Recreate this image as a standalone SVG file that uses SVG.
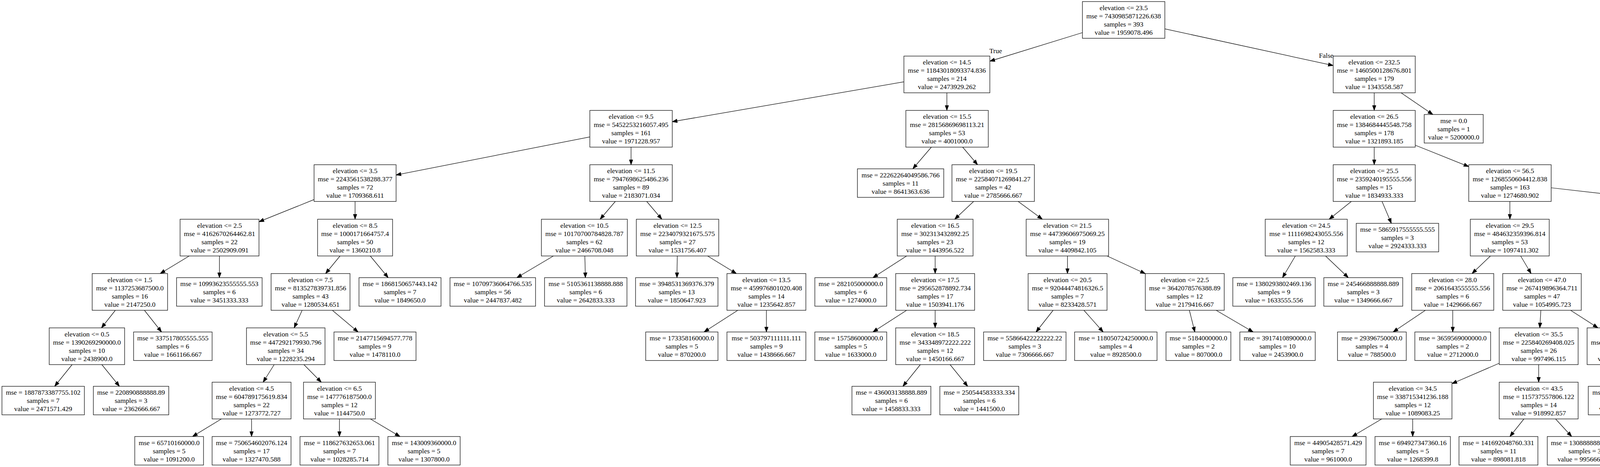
<svg xmlns="http://www.w3.org/2000/svg" width="7053" height="1195" viewBox="0 0 7053 1195">
<style>
.node rect{fill:#fff;stroke:#000;stroke-width:1.25}
.node text,.lbl{font-family:"Liberation Serif","Times New Roman",serif;font-size:17.5px;text-anchor:middle;fill:#000}
.edges line{stroke:#000;stroke-width:1.25;fill:none;marker-end:url(#arr)}
</style>
<defs>
<marker id="arr" markerUnits="userSpaceOnUse" viewBox="0 0 13 9" markerWidth="13" markerHeight="9" refX="12.5" refY="4.5" orient="auto" overflow="visible">
<path d="M0,0 L12.5,4.5 L0,9 z" fill="#000" stroke="#000" stroke-width="1"/>
</marker>
</defs>
<rect width="7053" height="1195" fill="#fff"/>
<g id="edges" class="edges">
<line x1="2771" y1="83.5" x2="2534" y2="156.6"/>
<line x1="2982" y1="73.9" x2="3413" y2="167.7"/>
<line x1="2314" y1="209.4" x2="1721" y2="311.4"/>
<line x1="2424" y1="237.5" x2="2424" y2="282.5"/>
<line x1="3518" y1="237.5" x2="3518" y2="282.5"/>
<line x1="3586.8" y1="237.5" x2="3668.1" y2="293"/>
<line x1="1510" y1="350.3" x2="1014" y2="447.8"/>
<line x1="1615.5" y1="376.5" x2="1615.5" y2="421.5"/>
<line x1="2384.3" y1="376.5" x2="2336.8" y2="432"/>
<line x1="2464.4" y1="376.5" x2="2502.6" y2="421.5"/>
<line x1="3518" y1="376.5" x2="3518" y2="421.5"/>
<line x1="3623" y1="371.5" x2="3760" y2="426.3"/>
<line x1="804" y1="510.7" x2="663" y2="567.4"/>
<line x1="909" y1="515.5" x2="909" y2="561"/>
<line x1="1575.2" y1="515.5" x2="1536.3" y2="561"/>
<line x1="1655.6" y1="515.5" x2="1694.4" y2="561"/>
<line x1="2492.5" y1="515.5" x2="2444" y2="561"/>
<line x1="2606.5" y1="515.5" x2="2668.5" y2="561"/>
<line x1="3459.4" y1="515.5" x2="3402.6" y2="561"/>
<line x1="3538" y1="515.5" x2="3561.9" y2="571.5"/>
<line x1="3865.3" y1="515.5" x2="3865.3" y2="561"/>
<line x1="3971" y1="480.5" x2="5000" y2="597.1"/>
<line x1="484.4" y1="655" x2="410.1" y2="700"/>
<line x1="561.7" y1="655" x2="561.7" y2="710.5"/>
<line x1="870.5" y1="655" x2="833.5" y2="700"/>
<line x1="947.9" y1="655" x2="993.8" y2="710.5"/>
<line x1="1416.7" y1="655" x2="1323.1" y2="710.5"/>
<line x1="1497.2" y1="655" x2="1498.6" y2="710.5"/>
<line x1="1733.8" y1="655" x2="1733" y2="710.5"/>
<line x1="1811.4" y1="655" x2="1885.1" y2="700"/>
<line x1="2321" y1="655" x2="2234.7" y2="710.5"/>
<line x1="2394" y1="655" x2="2394" y2="700"/>
<line x1="2732.7" y1="655" x2="2732.7" y2="700"/>
<line x1="2834.1" y1="655" x2="2932" y2="700.3"/>
<line x1="3316.1" y1="655" x2="3283.2" y2="710.5"/>
<line x1="3393.4" y1="655" x2="3451.7" y2="710.5"/>
<line x1="3815.6" y1="655" x2="3768.4" y2="700"/>
<line x1="3892.9" y1="655" x2="3919.6" y2="700"/>
<line x1="5096.5" y1="655" x2="5096.5" y2="700"/>
<line x1="5193" y1="627.7" x2="5678" y2="726.4"/>
<line x1="295.3" y1="794" x2="259.7" y2="839"/>
<line x1="369.7" y1="794" x2="413.6" y2="849.5"/>
<line x1="773.5" y1="794" x2="753" y2="839"/>
<line x1="850.8" y1="794" x2="916.7" y2="849.5"/>
<line x1="1888.8" y1="794" x2="1802.4" y2="849.5"/>
<line x1="1962" y1="794" x2="1962" y2="849.5"/>
<line x1="2321" y1="794" x2="2234.7" y2="849.5"/>
<line x1="2394" y1="794" x2="2394" y2="839"/>
<line x1="2696" y1="794" x2="2652.3" y2="849.5"/>
<line x1="2774.8" y1="794" x2="2824.1" y2="849.5"/>
<line x1="3044.8" y1="794" x2="3058.8" y2="849.5"/>
<line x1="3113.3" y1="794" x2="3208.1" y2="849.5"/>
<line x1="3649" y1="794" x2="3566.4" y2="849.5"/>
<line x1="3719" y1="794" x2="3719" y2="849.5"/>
<line x1="3944.6" y1="794" x2="3941.9" y2="839"/>
<line x1="4020.7" y1="794" x2="4090.8" y2="839"/>
<line x1="5057.6" y1="794" x2="5020.4" y2="839"/>
<line x1="5134.9" y1="794" x2="5180.2" y2="849.5"/>
<line x1="5779" y1="794" x2="5779" y2="839"/>
<line x1="5880" y1="769.4" x2="6309" y2="864.6"/>
<line x1="184.6" y1="933" x2="139.9" y2="988.5"/>
<line x1="260.7" y1="933" x2="305.8" y2="988.5"/>
<line x1="701.9" y1="933" x2="673.6" y2="978"/>
<line x1="778" y1="933" x2="822.5" y2="978"/>
<line x1="2356.1" y1="933" x2="2311.4" y2="988.5"/>
<line x1="2432.2" y1="933" x2="2477.3" y2="988.5"/>
<line x1="3838" y1="929.5" x2="3717" y2="981.7"/>
<line x1="3939" y1="933" x2="3939" y2="978"/>
<line x1="4162.3" y1="933" x2="4160.3" y2="988.5"/>
<line x1="4235.3" y1="933" x2="4303.7" y2="978"/>
<line x1="4947.3" y1="933" x2="4914.7" y2="978"/>
<line x1="5015.8" y1="933" x2="5048.7" y2="978"/>
<line x1="5741.6" y1="933" x2="5706.4" y2="978"/>
<line x1="5816" y1="933" x2="5852" y2="978"/>
<line x1="6405.5" y1="933" x2="6405.5" y2="978"/>
<line x1="6502" y1="928.4" x2="6621" y2="980.6"/>
<line x1="566.8" y1="1072" x2="492.9" y2="1117"/>
<line x1="644" y1="1072" x2="644" y2="1117"/>
<line x1="869" y1="1072" x2="869" y2="1117"/>
<line x1="948.2" y1="1072" x2="1024" y2="1117"/>
<line x1="3537.3" y1="1072" x2="3461.5" y2="1117"/>
<line x1="3616.5" y1="1072" x2="3616.5" y2="1117"/>
<line x1="3901.3" y1="1072" x2="3865.3" y2="1117"/>
<line x1="3982.2" y1="1072" x2="4023.5" y2="1117"/>
<line x1="4334.4" y1="1072" x2="4295.5" y2="1117"/>
<line x1="4410.5" y1="1072" x2="4444.5" y2="1117"/>
<line x1="4806.8" y1="1072" x2="4736.2" y2="1117"/>
<line x1="4882.7" y1="1072" x2="4884.8" y2="1117"/>
<line x1="5080.6" y1="1072" x2="5078.3" y2="1117"/>
<line x1="5141" y1="1072" x2="5196.5" y2="1117"/>
<line x1="5585.7" y1="1072" x2="5505.6" y2="1117"/>
<line x1="5669.5" y1="1072" x2="5669.5" y2="1117"/>
<line x1="5889.5" y1="1072" x2="5889.5" y2="1117"/>
<line x1="5966.7" y1="1072" x2="6040.6" y2="1117"/>
<line x1="6369.8" y1="1072" x2="6335.7" y2="1117"/>
<line x1="6443.9" y1="1072" x2="6480.7" y2="1117"/>
<line x1="6722" y1="1072" x2="6722" y2="1117"/>
<line x1="6804.3" y1="1072" x2="6883.1" y2="1117"/>
<text class="lbl" x="2549" y="135.5">True</text>
<text class="lbl" x="3395" y="147.5">False</text>
</g>
<g id="nodes">
<g id="n0" class="node" transform="translate(2876.5,4)"><rect x="-105.5" width="211" height="94"/><text y="21.5">elevation &lt;= 23.5</text><text y="42.5">mse = 7430985871226.638</text><text y="63.5">samples = 393</text><text y="84.5">value = 1959078.496</text></g>
<g id="n1" class="node" transform="translate(2424,143.5)"><rect x="-110" width="220" height="94"/><text y="21.5">elevation &lt;= 14.5</text><text y="42.5">mse = 11843018093374.836</text><text y="63.5">samples = 214</text><text y="84.5">value = 2473929.262</text></g>
<g id="n2" class="node" transform="translate(3518,143.5)"><rect x="-105" width="210" height="94"/><text y="21.5">elevation &lt;= 232.5</text><text y="42.5">mse = 1460500128676.801</text><text y="63.5">samples = 179</text><text y="84.5">value = 1343558.587</text></g>
<g id="n3" class="node" transform="translate(1615.5,282.5)"><rect x="-105.5" width="211" height="94"/><text y="21.5">elevation &lt;= 9.5</text><text y="42.5">mse = 5452253216057.495</text><text y="63.5">samples = 161</text><text y="84.5">value = 1971228.957</text></g>
<g id="n4" class="node" transform="translate(2424.5,282.5)"><rect x="-105.5" width="211" height="94"/><text y="21.5">elevation &lt;= 15.5</text><text y="42.5">mse = 28156869698113.21</text><text y="63.5">samples = 53</text><text y="84.5">value = 4001000.0</text></g>
<g id="n5" class="node" transform="translate(3518,282.5)"><rect x="-105" width="210" height="94"/><text y="21.5">elevation &lt;= 26.5</text><text y="42.5">mse = 1384684445548.758</text><text y="63.5">samples = 178</text><text y="84.5">value = 1321893.185</text></g>
<g id="n6" class="node" transform="translate(3721.5,293)"><rect x="-75.5" width="151" height="73"/><text y="21.5">mse = 0.0</text><text y="42.5">samples = 1</text><text y="63.5">value = 5200000.0</text></g>
<g id="n7" class="node" transform="translate(909,421.5)"><rect x="-105" width="210" height="94"/><text y="21.5">elevation &lt;= 3.5</text><text y="42.5">mse = 2243561538288.377</text><text y="63.5">samples = 72</text><text y="84.5">value = 1709368.611</text></g>
<g id="n8" class="node" transform="translate(1615.5,421.5)"><rect x="-105.5" width="211" height="94"/><text y="21.5">elevation &lt;= 11.5</text><text y="42.5">mse = 7947698625486.236</text><text y="63.5">samples = 89</text><text y="84.5">value = 2183071.034</text></g>
<g id="n9" class="node" transform="translate(2305.5,432)"><rect x="-110.5" width="221" height="73"/><text y="21.5">mse = 22262264049586.766</text><text y="42.5">samples = 11</text><text y="63.5">value = 8641363.636</text></g>
<g id="n10" class="node" transform="translate(2542.5,421.5)"><rect x="-105.5" width="211" height="94"/><text y="21.5">elevation &lt;= 19.5</text><text y="42.5">mse = 22584071269841.27</text><text y="63.5">samples = 42</text><text y="84.5">value = 2785666.667</text></g>
<g id="n11" class="node" transform="translate(3518,421.5)"><rect x="-105" width="210" height="94"/><text y="21.5">elevation &lt;= 25.5</text><text y="42.5">mse = 2359240195555.556</text><text y="63.5">samples = 15</text><text y="84.5">value = 1834933.333</text></g>
<g id="n12" class="node" transform="translate(3865.5,421.5)"><rect x="-105.5" width="211" height="94"/><text y="21.5">elevation &lt;= 56.5</text><text y="42.5">mse = 1268550604412.838</text><text y="63.5">samples = 163</text><text y="84.5">value = 1274680.902</text></g>
<g id="n13" class="node" transform="translate(562,561)"><rect x="-101" width="202" height="94"/><text y="21.5">elevation &lt;= 2.5</text><text y="42.5">mse = 4162670264462.81</text><text y="63.5">samples = 22</text><text y="84.5">value = 2502909.091</text></g>
<g id="n14" class="node" transform="translate(909,561)"><rect x="-96" width="192" height="94"/><text y="21.5">elevation &lt;= 8.5</text><text y="42.5">mse = 1000171664757.4</text><text y="63.5">samples = 50</text><text y="84.5">value = 1360210.8</text></g>
<g id="n15" class="node" transform="translate(1496,561)"><rect x="-110" width="220" height="94"/><text y="21.5">elevation &lt;= 10.5</text><text y="42.5">mse = 10170700784828.787</text><text y="63.5">samples = 62</text><text y="84.5">value = 2466708.048</text></g>
<g id="n16" class="node" transform="translate(1734.5,561)"><rect x="-105.5" width="211" height="94"/><text y="21.5">elevation &lt;= 12.5</text><text y="42.5">mse = 2234079321675.575</text><text y="63.5">samples = 27</text><text y="84.5">value = 1531756.407</text></g>
<g id="n17" class="node" transform="translate(2394,561)"><rect x="-97" width="194" height="94"/><text y="21.5">elevation &lt;= 16.5</text><text y="42.5">mse = 302313432892.25</text><text y="63.5">samples = 23</text><text y="84.5">value = 1443956.522</text></g>
<g id="n18" class="node" transform="translate(2732.5,561)"><rect x="-105.5" width="211" height="94"/><text y="21.5">elevation &lt;= 21.5</text><text y="42.5">mse = 44739606975069.25</text><text y="63.5">samples = 19</text><text y="84.5">value = 4409842.105</text></g>
<g id="n19" class="node" transform="translate(3344,561)"><rect x="-105" width="210" height="94"/><text y="21.5">elevation &lt;= 24.5</text><text y="42.5">mse = 1111698243055.556</text><text y="63.5">samples = 12</text><text y="84.5">value = 1562583.333</text></g>
<g id="n20" class="node" transform="translate(3577.5,571.5)"><rect x="-105.5" width="211" height="73"/><text y="21.5">mse = 5865917555555.555</text><text y="42.5">samples = 3</text><text y="63.5">value = 2924333.333</text></g>
<g id="n21" class="node" transform="translate(3865,561)"><rect x="-101" width="202" height="94"/><text y="21.5">elevation &lt;= 29.5</text><text y="42.5">mse = 484632359396.814</text><text y="63.5">samples = 53</text><text y="84.5">value = 1097411.302</text></g>
<g id="n22" class="node" transform="translate(5096.5,561)"><rect x="-96.5" width="193" height="94"/><text y="21.5">elevation &lt;= 62.5</text><text y="42.5">mse = 1623820605845.0</text><text y="63.5">samples = 110</text><text y="84.5">value = 1360092.618</text></g>
<g id="n23" class="node" transform="translate(332.5,700)"><rect x="-96.5" width="193" height="94"/><text y="21.5">elevation &lt;= 1.5</text><text y="42.5">mse = 1137253687500.0</text><text y="63.5">samples = 16</text><text y="84.5">value = 2147250.0</text></g>
<g id="n24" class="node" transform="translate(561.5,710.5)"><rect x="-109.5" width="219" height="73"/><text y="21.5">mse = 10993623555555.553</text><text y="42.5">samples = 6</text><text y="63.5">value = 3451333.333</text></g>
<g id="n25" class="node" transform="translate(795,700)"><rect x="-101" width="202" height="94"/><text y="21.5">elevation &lt;= 7.5</text><text y="42.5">mse = 813527839731.856</text><text y="63.5">samples = 43</text><text y="84.5">value = 1280534.651</text></g>
<g id="n26" class="node" transform="translate(1024,710.5)"><rect x="-105" width="210" height="73"/><text y="21.5">mse = 1868150657443.142</text><text y="42.5">samples = 7</text><text y="63.5">value = 1849650.0</text></g>
<g id="n27" class="node" transform="translate(1261.5,710.5)"><rect x="-109.5" width="219" height="73"/><text y="21.5">mse = 10709736064766.535</text><text y="42.5">samples = 56</text><text y="63.5">value = 2447837.482</text></g>
<g id="n28" class="node" transform="translate(1499.5,710.5)"><rect x="-105.5" width="211" height="73"/><text y="21.5">mse = 5105361138888.888</text><text y="42.5">samples = 6</text><text y="63.5">value = 2642833.333</text></g>
<g id="n29" class="node" transform="translate(1732.5,710.5)"><rect x="-105.5" width="211" height="73"/><text y="21.5">mse = 3948531369376.379</text><text y="42.5">samples = 13</text><text y="63.5">value = 1850647.923</text></g>
<g id="n30" class="node" transform="translate(1962,700)"><rect x="-101" width="202" height="94"/><text y="21.5">elevation &lt;= 13.5</text><text y="42.5">mse = 459976801020.408</text><text y="63.5">samples = 14</text><text y="84.5">value = 1235642.857</text></g>
<g id="n31" class="node" transform="translate(2178,710.5)"><rect x="-92" width="184" height="73"/><text y="21.5">mse = 282105000000.0</text><text y="42.5">samples = 6</text><text y="63.5">value = 1274000.0</text></g>
<g id="n32" class="node" transform="translate(2394,700)"><rect x="-101" width="202" height="94"/><text y="21.5">elevation &lt;= 17.5</text><text y="42.5">mse = 295652878892.734</text><text y="63.5">samples = 17</text><text y="84.5">value = 1503941.176</text></g>
<g id="n33" class="node" transform="translate(2733,700)"><rect x="-101" width="202" height="94"/><text y="21.5">elevation &lt;= 20.5</text><text y="42.5">mse = 92044474816326.5</text><text y="63.5">samples = 7</text><text y="84.5">value = 8233428.571</text></g>
<g id="n34" class="node" transform="translate(3033,700)"><rect x="-101" width="202" height="94"/><text y="21.5">elevation &lt;= 22.5</text><text y="42.5">mse = 3642078576388.89</text><text y="63.5">samples = 12</text><text y="84.5">value = 2179416.667</text></g>
<g id="n35" class="node" transform="translate(3261.5,710.5)"><rect x="-105.5" width="211" height="73"/><text y="21.5">mse = 1380293802469.136</text><text y="42.5">samples = 9</text><text y="63.5">value = 1633555.556</text></g>
<g id="n36" class="node" transform="translate(3490,710.5)"><rect x="-101" width="202" height="73"/><text y="21.5">mse = 245466888888.889</text><text y="42.5">samples = 3</text><text y="63.5">value = 1349666.667</text></g>
<g id="n37" class="node" transform="translate(3719,700)"><rect x="-105" width="210" height="94"/><text y="21.5">elevation &lt;= 28.0</text><text y="42.5">mse = 2061643555555.556</text><text y="63.5">samples = 6</text><text y="84.5">value = 1429666.667</text></g>
<g id="n38" class="node" transform="translate(3947.5,700)"><rect x="-100.5" width="201" height="94"/><text y="21.5">elevation &lt;= 47.0</text><text y="42.5">mse = 267419896364.711</text><text y="63.5">samples = 47</text><text y="84.5">value = 1054995.723</text></g>
<g id="n39" class="node" transform="translate(5096.5,700)"><rect x="-105.5" width="211" height="94"/><text y="21.5">elevation &lt;= 61.5</text><text y="42.5">mse = 8195639802469.136</text><text y="63.5">samples = 9</text><text y="84.5">value = 2312555.556</text></g>
<g id="n40" class="node" transform="translate(5779,700)"><rect x="-101" width="202" height="94"/><text y="21.5">elevation &lt;= 88.5</text><text y="42.5">mse = 950171214576.375</text><text y="63.5">samples = 101</text><text y="84.5">value = 1275219.683</text></g>
<g id="n41" class="node" transform="translate(222.5,839)"><rect x="-96.5" width="193" height="94"/><text y="21.5">elevation &lt;= 0.5</text><text y="42.5">mse = 1390269290000.0</text><text y="63.5">samples = 10</text><text y="84.5">value = 2438900.0</text></g>
<g id="n42" class="node" transform="translate(442.5,849.5)"><rect x="-100.5" width="201" height="73"/><text y="21.5">mse = 337517805555.555</text><text y="42.5">samples = 6</text><text y="63.5">value = 1661166.667</text></g>
<g id="n43" class="node" transform="translate(731.5,839)"><rect x="-100.5" width="201" height="94"/><text y="21.5">elevation &lt;= 5.5</text><text y="42.5">mse = 447292179930.796</text><text y="63.5">samples = 34</text><text y="84.5">value = 1228235.294</text></g>
<g id="n44" class="node" transform="translate(960,849.5)"><rect x="-105" width="210" height="73"/><text y="21.5">mse = 2147715694577.778</text><text y="42.5">samples = 9</text><text y="63.5">value = 1478110.0</text></g>
<g id="n45" class="node" transform="translate(1745.5,849.5)"><rect x="-92.5" width="185" height="73"/><text y="21.5">mse = 173358160000.0</text><text y="42.5">samples = 5</text><text y="63.5">value = 870200.0</text></g>
<g id="n46" class="node" transform="translate(1962,849.5)"><rect x="-101" width="202" height="73"/><text y="21.5">mse = 503797111111.111</text><text y="42.5">samples = 9</text><text y="63.5">value = 1438666.667</text></g>
<g id="n47" class="node" transform="translate(2178,849.5)"><rect x="-92" width="184" height="73"/><text y="21.5">mse = 157586000000.0</text><text y="42.5">samples = 5</text><text y="63.5">value = 1633000.0</text></g>
<g id="n48" class="node" transform="translate(2394,839)"><rect x="-101" width="202" height="94"/><text y="21.5">elevation &lt;= 18.5</text><text y="42.5">mse = 343348972222.222</text><text y="63.5">samples = 12</text><text y="84.5">value = 1450166.667</text></g>
<g id="n49" class="node" transform="translate(2623.5,849.5)"><rect x="-105.5" width="211" height="73"/><text y="21.5">mse = 55866422222222.22</text><text y="42.5">samples = 3</text><text y="63.5">value = 7306666.667</text></g>
<g id="n50" class="node" transform="translate(2856.5,849.5)"><rect x="-105.5" width="211" height="73"/><text y="21.5">mse = 118050724250000.0</text><text y="42.5">samples = 4</text><text y="63.5">value = 8928500.0</text></g>
<g id="n51" class="node" transform="translate(3068,849.5)"><rect x="-83" width="166" height="73"/><text y="21.5">mse = 5184000000.0</text><text y="42.5">samples = 2</text><text y="63.5">value = 807000.0</text></g>
<g id="n52" class="node" transform="translate(3270.5,849.5)"><rect x="-96.5" width="193" height="73"/><text y="21.5">mse = 3917410890000.0</text><text y="42.5">samples = 10</text><text y="63.5">value = 2453900.0</text></g>
<g id="n53" class="node" transform="translate(3512,849.5)"><rect x="-88" width="176" height="73"/><text y="21.5">mse = 29396750000.0</text><text y="42.5">samples = 4</text><text y="63.5">value = 788500.0</text></g>
<g id="n54" class="node" transform="translate(3719,849.5)"><rect x="-97" width="194" height="73"/><text y="21.5">mse = 3659569000000.0</text><text y="42.5">samples = 2</text><text y="63.5">value = 2712000.0</text></g>
<g id="n55" class="node" transform="translate(3939,839)"><rect x="-101" width="202" height="94"/><text y="21.5">elevation &lt;= 35.5</text><text y="42.5">mse = 225840269408.025</text><text y="63.5">samples = 26</text><text y="84.5">value = 997496.115</text></g>
<g id="n56" class="node" transform="translate(4164,839)"><rect x="-101" width="202" height="94"/><text y="21.5">elevation &lt;= 48.5</text><text y="42.5">mse = 309738023129.251</text><text y="63.5">samples = 21</text><text y="84.5">value = 1126185.714</text></g>
<g id="n57" class="node" transform="translate(4981.5,839)"><rect x="-105.5" width="211" height="94"/><text y="21.5">elevation &lt;= 59.5</text><text y="42.5">mse = 1274909387755.102</text><text y="63.5">samples = 7</text><text y="84.5">value = 1417571.429</text></g>
<g id="n58" class="node" transform="translate(5210,849.5)"><rect x="-101" width="202" height="73"/><text y="21.5">mse = 19802500000000.0</text><text y="42.5">samples = 2</text><text y="63.5">value = 5445000.0</text></g>
<g id="n59" class="node" transform="translate(5778.5,839)"><rect x="-105.5" width="211" height="94"/><text y="21.5">elevation &lt;= 82.0</text><text y="42.5">mse = 1709582652862.702</text><text y="63.5">samples = 44</text><text y="84.5">value = 1414672.455</text></g>
<g id="n60" class="node" transform="translate(6405.5,839)"><rect x="-96.5" width="193" height="94"/><text y="21.5">elevation &lt;= 97.5</text><text y="42.5">mse = 337359059913.82</text><text y="63.5">samples = 57</text><text y="84.5">value = 1167571.93</text></g>
<g id="n61" class="node" transform="translate(110.5,988.5)"><rect x="-105.5" width="211" height="73"/><text y="21.5">mse = 1887873387755.102</text><text y="42.5">samples = 7</text><text y="63.5">value = 2471571.429</text></g>
<g id="n62" class="node" transform="translate(335.5,988.5)"><rect x="-96.5" width="193" height="73"/><text y="21.5">mse = 220890888888.89</text><text y="42.5">samples = 3</text><text y="63.5">value = 2362666.667</text></g>
<g id="n63" class="node" transform="translate(644,978)"><rect x="-101" width="202" height="94"/><text y="21.5">elevation &lt;= 4.5</text><text y="42.5">mse = 604789175619.834</text><text y="63.5">samples = 22</text><text y="84.5">value = 1273772.727</text></g>
<g id="n64" class="node" transform="translate(869,978)"><rect x="-92" width="184" height="94"/><text y="21.5">elevation &lt;= 6.5</text><text y="42.5">mse = 147776187500.0</text><text y="63.5">samples = 12</text><text y="84.5">value = 1144750.0</text></g>
<g id="n65" class="node" transform="translate(2282,988.5)"><rect x="-101" width="202" height="73"/><text y="21.5">mse = 436003138888.889</text><text y="42.5">samples = 6</text><text y="63.5">value = 1458833.333</text></g>
<g id="n66" class="node" transform="translate(2507,988.5)"><rect x="-101" width="202" height="73"/><text y="21.5">mse = 250544583333.334</text><text y="42.5">samples = 6</text><text y="63.5">value = 1441500.0</text></g>
<g id="n67" class="node" transform="translate(3616.5,978)"><rect x="-100.5" width="201" height="94"/><text y="21.5">elevation &lt;= 34.5</text><text y="42.5">mse = 338715341236.188</text><text y="63.5">samples = 12</text><text y="84.5">value = 1089083.25</text></g>
<g id="n68" class="node" transform="translate(3939,978)"><rect x="-101" width="202" height="94"/><text y="21.5">elevation &lt;= 43.5</text><text y="42.5">mse = 115737557806.122</text><text y="63.5">samples = 14</text><text y="84.5">value = 918992.857</text></g>
<g id="n69" class="node" transform="translate(4159,988.5)"><rect x="-93" width="186" height="73"/><text y="21.5">mse = 783992687500.0</text><text y="42.5">samples = 4</text><text y="63.5">value = 1609750.0</text></g>
<g id="n70" class="node" transform="translate(4375,978)"><rect x="-101" width="202" height="94"/><text y="21.5">elevation &lt;= 51.5</text><text y="42.5">mse = 130182977024.221</text><text y="63.5">samples = 17</text><text y="84.5">value = 1012405.882</text></g>
<g id="n71" class="node" transform="translate(4880.5,978)"><rect x="-96.5" width="193" height="94"/><text y="21.5">elevation &lt;= 58.5</text><text y="42.5">mse = 1520226750000.0</text><text y="63.5">samples = 4</text><text y="84.5">value = 1968500.0</text></g>
<g id="n72" class="node" transform="translate(5083,978)"><rect x="-83" width="166" height="94"/><text y="21.5">elevation &lt;= 60.5</text><text y="42.5">mse = 3528000000.0</text><text y="63.5">samples = 3</text><text y="84.5">value = 683000.0</text></g>
<g id="n73" class="node" transform="translate(5669.5,978)"><rect x="-101.5" width="203" height="94"/><text y="21.5">elevation &lt;= 67.5</text><text y="42.5">mse = 1458237788458.21</text><text y="63.5">samples = 36</text><text y="84.5">value = 1307044.111</text></g>
<g id="n74" class="node" transform="translate(5889.5,978)"><rect x="-96.5" width="193" height="94"/><text y="21.5">elevation &lt;= 83.5</text><text y="42.5">mse = 2553934000000.0</text><text y="63.5">samples = 8</text><text y="84.5">value = 1899000.0</text></g>
<g id="n75" class="node" transform="translate(6405.5,978)"><rect x="-96.5" width="193" height="94"/><text y="21.5">elevation &lt;= 89.5</text><text y="42.5">mse = 97607905325.444</text><text y="63.5">samples = 13</text><text y="84.5">value = 852307.692</text></g>
<g id="n76" class="node" transform="translate(6722,978)"><rect x="-101" width="202" height="94"/><text y="21.5">elevation &lt;= 109.0</text><text y="42.5">mse = 370152721942.148</text><text y="63.5">samples = 44</text><text y="84.5">value = 1260718.182</text></g>
<g id="n77" class="node" transform="translate(433,1117)"><rect x="-88" width="176" height="73"/><text y="21.5">mse = 65710160000.0</text><text y="42.5">samples = 5</text><text y="63.5">value = 1091200.0</text></g>
<g id="n78" class="node" transform="translate(644,1117)"><rect x="-101" width="202" height="73"/><text y="21.5">mse = 750654602076.124</text><text y="42.5">samples = 17</text><text y="63.5">value = 1327470.588</text></g>
<g id="n79" class="node" transform="translate(869,1117)"><rect x="-101" width="202" height="73"/><text y="21.5">mse = 118627632653.061</text><text y="42.5">samples = 7</text><text y="63.5">value = 1028285.714</text></g>
<g id="n80" class="node" transform="translate(1085.5,1117)"><rect x="-92.5" width="185" height="73"/><text y="21.5">mse = 143009360000.0</text><text y="42.5">samples = 5</text><text y="63.5">value = 1307800.0</text></g>
<g id="n81" class="node" transform="translate(3400,1117)"><rect x="-97" width="194" height="73"/><text y="21.5">mse = 44905428571.429</text><text y="42.5">samples = 7</text><text y="63.5">value = 961000.0</text></g>
<g id="n82" class="node" transform="translate(3616.5,1117)"><rect x="-96.5" width="193" height="73"/><text y="21.5">mse = 694927347360.16</text><text y="42.5">samples = 5</text><text y="63.5">value = 1268399.8</text></g>
<g id="n83" class="node" transform="translate(3836,1117)"><rect x="-101" width="202" height="73"/><text y="21.5">mse = 141692048760.331</text><text y="42.5">samples = 11</text><text y="63.5">value = 898081.818</text></g>
<g id="n84" class="node" transform="translate(4057,1117)"><rect x="-96" width="192" height="73"/><text y="21.5">mse = 13088888888.889</text><text y="42.5">samples = 3</text><text y="63.5">value = 995666.667</text></g>
<g id="n85" class="node" transform="translate(4264,1117)"><rect x="-88" width="176" height="73"/><text y="21.5">mse = 37531451875.0</text><text y="42.5">samples = 4</text><text y="63.5">value = 758975.0</text></g>
<g id="n86" class="node" transform="translate(4472,1117)"><rect x="-97" width="194" height="73"/><text y="21.5">mse = 132848236686.39</text><text y="42.5">samples = 13</text><text y="63.5">value = 1090384.615</text></g>
<g id="n87" class="node" transform="translate(4679,1117)"><rect x="-88" width="176" height="73"/><text y="21.5">mse = 38025000000.0</text><text y="42.5">samples = 2</text><text y="63.5">value = 1590000.0</text></g>
<g id="n88" class="node" transform="translate(4886.5,1117)"><rect x="-96.5" width="193" height="73"/><text y="21.5">mse = 2715904000000.0</text><text y="42.5">samples = 2</text><text y="63.5">value = 2347000.0</text></g>
<g id="n89" class="node" transform="translate(5076.5,1117)"><rect x="-70.5" width="141" height="73"/><text y="21.5">mse = 0.0</text><text y="42.5">samples = 2</text><text y="63.5">value = 725000.0</text></g>
<g id="n90" class="node" transform="translate(5241.5,1117)"><rect x="-70.5" width="141" height="73"/><text y="21.5">mse = 0.0</text><text y="42.5">samples = 1</text><text y="63.5">value = 599000.0</text></g>
<g id="n91" class="node" transform="translate(5440.5,1117)"><rect x="-105.5" width="211" height="73"/><text y="21.5">mse = 3552470789135.802</text><text y="42.5">samples = 9</text><text y="63.5">value = 1652755.556</text></g>
<g id="n92" class="node" transform="translate(5669.5,1117)"><rect x="-101.5" width="203" height="73"/><text y="21.5">mse = 707041720312.406</text><text y="42.5">samples = 27</text><text y="63.5">value = 1191806.963</text></g>
<g id="n93" class="node" transform="translate(5889.5,1117)"><rect x="-96.5" width="193" height="73"/><text y="21.5">mse = 5522500000000.0</text><text y="42.5">samples = 2</text><text y="63.5">value = 3600000.0</text></g>
<g id="n94" class="node" transform="translate(6100.5,1117)"><rect x="-91.5" width="183" height="73"/><text y="21.5">mse = 278456000000.0</text><text y="42.5">samples = 6</text><text y="63.5">value = 1332000.0</text></g>
<g id="n95" class="node" transform="translate(6308,1117)"><rect x="-92" width="184" height="73"/><text y="21.5">mse = 240590250000.0</text><text y="42.5">samples = 2</text><text y="63.5">value = 1189500.0</text></g>
<g id="n96" class="node" transform="translate(6510.5,1117)"><rect x="-87.5" width="175" height="73"/><text y="21.5">mse = 47180000000.0</text><text y="42.5">samples = 11</text><text y="63.5">value = 791000.0</text></g>
<g id="n97" class="node" transform="translate(6722,1117)"><rect x="-101" width="202" height="73"/><text y="21.5">mse = 386944231404.959</text><text y="42.5">samples = 11</text><text y="63.5">value = 1528636.364</text></g>
<g id="n98" class="node" transform="translate(6947,1117)"><rect x="-101" width="202" height="73"/><text y="21.5">mse = 332653262277.319</text><text y="42.5">samples = 33</text><text y="63.5">value = 1171412.121</text></g>
</g>
</svg>
